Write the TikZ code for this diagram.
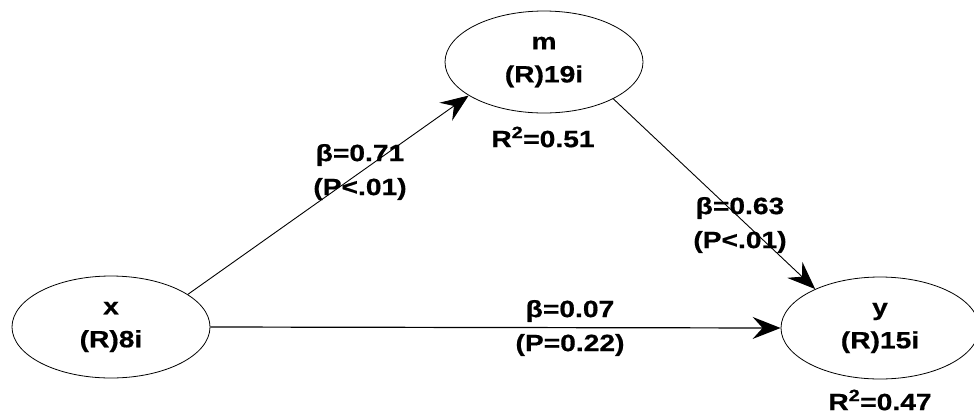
\documentclass[tikz,border=0pt]{standalone}
\usepackage{fontspec}
\setmainfont{Liberation Sans}[FakeStretch=1.2,BoldFeatures={FakeBold=0.6}]
\usetikzlibrary{shapes.geometric,arrows.meta}
\begin{document}
\begin{tikzpicture}[x=1pt,y=-1pt,
  var/.style={draw,ellipse,line width=0.8pt,minimum width=198pt,minimum height=102pt,inner sep=0pt,align=center,
    font=\fontsize{23.5}{33}\selectfont\bfseries},
  lab/.style={align=center,inner sep=0pt,font=\fontsize{23.5}{34}\selectfont\bfseries},
  path/.style={line width=0.9pt,-{Stealth[length=28pt,width=22pt,inset=10pt]}}]
\fill[white] (0,0) rectangle (974,416);
\useasboundingbox (0,0) rectangle (974,416);
\node[var] (x) at (111,327) {x\\(R)8i};
\node[var] (m) at (544,62) {m\\(R)19i};
\node[var] (y) at (880,328) {y\\(R)15i};
\draw[path] (x.23) -- (m.204);
\draw[path] (m.-28) -- (y.149);
\draw[path,line width=1.2pt] (x.east) -- (y.west);
\node[lab] (l1) at (360,172) {β=0.71\\(P<.01)};
\node[lab] (l2) at (740,225) {β=0.63\\(P<.01)};
\node[lab] (l3) at (570,328) {β=0.07\\(P=0.22)};
\node[lab] (r1) at (543,137) {R\textsuperscript{2}=0.51};
\node[lab] (r2) at (880,400) {R\textsuperscript{2}=0.47};
\end{tikzpicture}
\end{document}
